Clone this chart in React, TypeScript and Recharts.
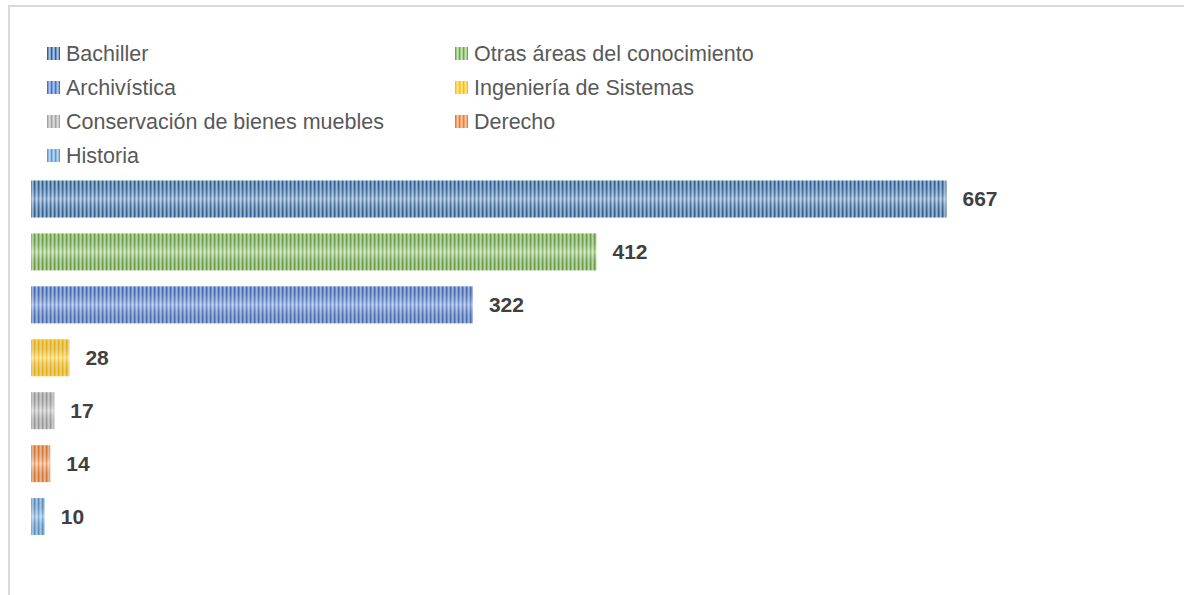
import { BarChart, Bar, XAxis, YAxis, Cell, LabelList, Legend } from 'recharts';

const categories = [
  'Bachiller',
  'Otras áreas del conocimiento',
  'Archivística',
  'Ingeniería de Sistemas',
  'Conservación de bienes muebles',
  'Derecho',
  'Historia',
];
const values = [667, 412, 322, 28, 17, 14, 10];
const darkColors = ['#2d639b', '#6eab45', '#4672c4', '#ffbf00', '#a4a4a4', '#ec7c30', '#5a9ad4'];
const lightColors = ['#a9c5e3', '#cbe5b8', '#adc2ec', '#ffe492', '#dcdcdc', '#f9c6a1', '#b7d4f0'];
// legend grid: rows are read left column then right column
const legendOrder = [0, 1, 2, 3, 4, 5, 6];

const chartData = categories.map((name, i) => ({ name, value: values[i] }));

const FONT = '"Liberation Sans", Arial, sans-serif';

const StripedBar = (props: any) => {
  const { x, y, width, height, fill } = props;
  if (!width || width <= 0 || !height) return null;
  return (
    <g>
      <rect x={x} y={y} width={width} height={height} fill={fill} />
      <rect x={x} y={y} width={width} height={height} fill="url(#sheen)" />
    </g>
  );
};

const LegendGrid = () => (
  <div style={{ position: 'relative', width: 900, height: 170, fontFamily: FONT }}>
    {legendOrder.map((idx, k) => {
      const col = k % 2;
      const row = Math.floor(k / 2);
      return (
        <div
          key={idx}
          style={{
            position: 'absolute',
            left: col === 0 ? 37 : 445,
            top: 29.5 + row * 34,
            height: 34,
            display: 'flex',
            alignItems: 'center',
            whiteSpace: 'nowrap',
          }}
        >
          <svg width={13} height={13} style={{ marginRight: 6 }}>
            <rect width={13} height={13} fill={`url(#pat-${idx})`} />
          </svg>
          <span style={{ fontSize: 21.5, color: '#595959', lineHeight: '34px' }}>{categories[idx]}</span>
        </div>
      );
    })}
  </div>
);

export default function App() {
  return (
    <div style={{ background: '#fff' }}>
      <style>{'body{margin:0;background:#fff}'}</style>
      <div
        style={{
          margin: '5px 0 0 8px',
          width: 1174,
          height: 588,
          borderTop: '2px solid #d9d9d9',
          borderLeft: '2px solid #d9d9d9',
        }}
      >
        <BarChart
          width={1174}
          height={588}
          data={chartData}
          layout="vertical"
          margin={{ top: 165.5, right: 55, bottom: 52, left: 21 }}
          barSize={37}
        >
          <defs>
            {darkColors.map((c, i) => (
              <pattern key={i} id={`pat-${i}`} patternUnits="userSpaceOnUse" width={4} height={4}>
                <rect width={4} height={4} fill={c} />
                <rect x={1.5} width={2.2} height={4} fill={lightColors[i]} />
              </pattern>
            ))}
            <linearGradient id="sheen" x1="0" y1="0" x2="0" y2="1">
              <stop offset="0%" stopColor="#000" stopOpacity={0.06} />
              <stop offset="50%" stopColor="#fff" stopOpacity={0.3} />
              <stop offset="100%" stopColor="#000" stopOpacity={0.06} />
            </linearGradient>
          </defs>
          <XAxis type="number" domain={[0, 800]} hide />
          <YAxis type="category" dataKey="name" hide />
          <Legend
            layout="horizontal"
            verticalAlign="middle"
            align="center"
            content={() => <LegendGrid />}
            wrapperStyle={{ top: 0, left: 0, width: 900, height: 170 }}
          />
          <Bar dataKey="value" shape={StripedBar} isAnimationActive={false}>
            {chartData.map((_, i) => (
              <Cell key={i} fill={`url(#pat-${i})`} />
            ))}
            <LabelList
              dataKey="value"
              position="right"
              offset={16}
              style={{ fontFamily: FONT, fontWeight: 700, fontSize: 21, fill: '#404040' }}
            />
          </Bar>
        </BarChart>
      </div>
    </div>
  );
}
